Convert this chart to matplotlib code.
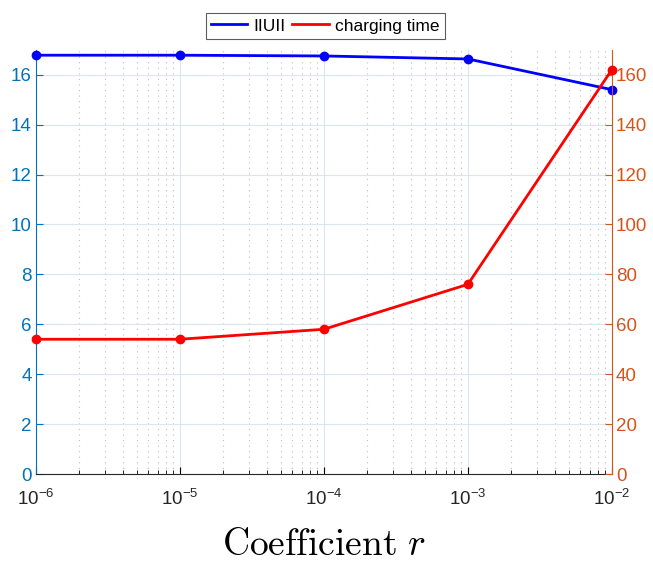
import matplotlib
matplotlib.use('Agg')
from matplotlib import pyplot as plt
from matplotlib.lines import Line2D
from matplotlib.ticker import FixedLocator, LogLocator, NullFormatter

plt.rcParams['font.family'] = ['Liberation Sans', 'DejaVu Sans']
plt.rcParams['mathtext.fontset'] = 'cm'

coef: list = [1e-6, 1e-5, 1e-4, 1e-3, 1e-2]
norm_u: list = [16.78, 16.78, 16.75, 16.63, 15.4]
charging_time: list = [54, 54, 58, 76, 162]
x_ticks: list = [1e-6, 1e-5, 1e-4, 1e-3, 1e-2]
x_tick_labels: list = [r'$\mathregular{10^{-6}}$', r'$\mathregular{10^{-5}}$', r'$\mathregular{10^{-4}}$',
                       r'$\mathregular{10^{-3}}$', r'$\mathregular{10^{-2}}$']
left_ticks: list = [0, 2, 4, 6, 8, 10, 12, 14, 16]
right_ticks: list = [0, 20, 40, 60, 80, 100, 120, 140, 160]

blue_axis = (0.0, 0.447, 0.741)
orange_axis = (0.85, 0.325, 0.098)

fig = plt.figure(figsize=(6.53, 5.65), dpi=100)
ax = fig.add_axes([0.055, 0.161, 0.882, 0.751])
ax2 = ax.twinx()

ax.plot(coef, norm_u, color='blue', lw=2, marker='o', ms=6, clip_on=False, zorder=5)
ax2.plot(coef, charging_time, color='red', lw=2, marker='o', ms=6, clip_on=False, zorder=5)

ax.set_xscale('log')
ax.set_xlim(1e-6, 1e-2)
ax.set_ylim(0, 17)
ax2.set_ylim(0, 170)

ax.xaxis.set_major_locator(FixedLocator(x_ticks))
ax.set_xticklabels(x_tick_labels)
ax.xaxis.set_minor_locator(LogLocator(base=10, subs=range(2, 10), numticks=20))
ax.xaxis.set_minor_formatter(NullFormatter())
ax.set_yticks(left_ticks)
ax2.set_yticks(right_ticks)

ax.grid(True, which='major', axis='both', color=(0.85, 0.9, 0.95), lw=0.8)
ax.grid(True, which='minor', axis='x', color=(0.75, 0.75, 0.75), lw=0.8, ls=(0, (1, 4)))
ax.set_axisbelow(True)

for a in (ax, ax2):
    a.spines['top'].set_visible(False)
    a.tick_params(direction='in', which='both', labelsize=13.5)
ax.spines['left'].set_color(blue_axis)
ax.spines['right'].set_visible(False)
ax.spines['bottom'].set_color((0.15, 0.15, 0.15))
ax2.spines['right'].set_color(orange_axis)
ax2.spines['left'].set_visible(False)
ax2.spines['bottom'].set_visible(False)
ax.tick_params(axis='y', colors=blue_axis, length=5, pad=3)
ax.tick_params(axis='x', which='major', length=5, pad=11, labelcolor=(0.15, 0.15, 0.15))
ax.tick_params(axis='x', which='minor', length=3)
ax2.tick_params(axis='y', colors=orange_axis, length=5, pad=3)

ax.set_xlabel(r'$\mathrm{Coefficient}\ r$', fontsize=27, labelpad=13)

handles = [Line2D([], [], color='blue', lw=2), Line2D([], [], color='red', lw=2)]
leg = fig.legend(handles=handles, labels=['IIUII', 'charging time'], loc='upper center',
                 bbox_to_anchor=(0.498, 0.992), ncol=2,
                 frameon=True, fancybox=False, edgecolor=(0.2, 0.2, 0.2), fontsize=12.5,
                 handlelength=2.1, handletextpad=0.35, columnspacing=0.4, borderpad=0.3)
leg.get_frame().set_linewidth(0.8)

fig.savefig('out.png', dpi=100)
